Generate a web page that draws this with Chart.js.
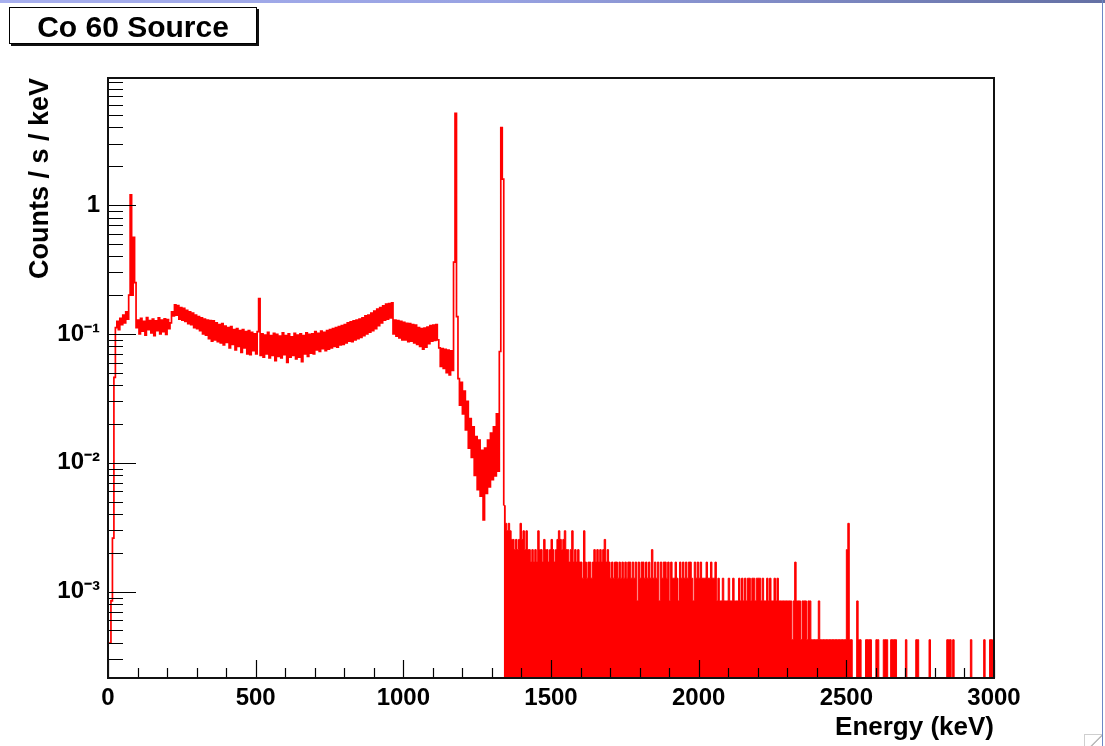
<!DOCTYPE html>
<html>
<head>
<meta charset="utf-8">
<script src="https://cdn.jsdelivr.net/npm/chart.js@4"></script>
<style>
html,body{margin:0;padding:0;background:#fff;}
#wrap{position:relative;width:1105px;height:746px;overflow:hidden;background:#fff;}
#c{position:absolute;left:0;top:0;}
#topbar{position:absolute;left:0;top:0;width:1105px;height:3px;background:linear-gradient(to right,#a7afee,#98a2e2 45%,#6470a4);}
#rightbar{position:absolute;left:1102px;top:0;width:1px;height:746px;background:#6d87c4;}
#grip{position:absolute;left:1084px;top:734px;width:17px;height:12px;border-left:1px solid #cfcfcf;border-top:1px solid #cfcfcf;background:linear-gradient(135deg,transparent 55%,#bbb 56%,#bbb 62%,transparent 63%);}
#title{position:absolute;left:9px;top:7px;width:246px;height:33px;padding-top:2px;border:1px solid #000;box-shadow:2px 2px 0 #111;background:#fff;font:bold 30px 'Liberation Sans',Arial,Helvetica,sans-serif;text-align:center;line-height:33px;color:#000;}
</style>
</head>
<body>
<div id="wrap">
  <canvas id="c" width="1105" height="746"></canvas>
  <div id="topbar"></div>
  <div id="rightbar"></div>
  <div id="grip"></div>
  <div id="title">Co 60 Source</div>
</div>
<script>
// ---------------- data ----------------
const BIN_KEV = 5;               // histogram bin width (keV)
const lowStartKeV = 0;           // first bin of the low-energy part
// counts / s / keV, one value per 5 keV bin, 0 .. 1335 keV
const lowRates = [
  /*    0 */ 0.0004, 0.0004, 0.00085, 0.0026, 0.046, 0.112, 0.125, 0.108, 0.132, 0.118,
  /*   50 */ 0.14, 0.122, 0.148, 0.13, 0.2, 1.2, 0.2, 0.56, 0.25, 0.112,
  /*  100 */ 0.128, 0.1, 0.132, 0.105, 0.125, 0.098, 0.134, 0.108, 0.127, 0.102,
  /*  150 */ 0.13, 0.097, 0.126, 0.106, 0.133, 0.1, 0.128, 0.104, 0.131, 0.099,
  /*  200 */ 0.129, 0.11, 0.122, 0.148, 0.138, 0.168, 0.14, 0.166, 0.13, 0.16,
  /*  250 */ 0.128, 0.158, 0.125, 0.152, 0.12, 0.148, 0.118, 0.145, 0.112, 0.14,
  /*  300 */ 0.11, 0.136, 0.106, 0.133, 0.1, 0.13, 0.098, 0.128, 0.092, 0.127,
  /*  350 */ 0.088, 0.126, 0.09, 0.122, 0.087, 0.118, 0.085, 0.12, 0.082, 0.115,
  /*  400 */ 0.086, 0.112, 0.078, 0.114, 0.083, 0.108, 0.075, 0.11, 0.08, 0.106,
  /*  450 */ 0.072, 0.108, 0.078, 0.104, 0.07, 0.106, 0.069, 0.103, 0.074, 0.1,
  /*  500 */ 0.07, 0.104, 0.188, 0.068, 0.1, 0.066, 0.098, 0.07, 0.103, 0.065,
  /*  550 */ 0.097, 0.068, 0.101, 0.062, 0.099, 0.067, 0.096, 0.065, 0.102, 0.069,
  /*  600 */ 0.097, 0.06, 0.1, 0.066, 0.095, 0.068, 0.101, 0.064, 0.098, 0.066,
  /*  650 */ 0.1, 0.061, 0.097, 0.07, 0.102, 0.067, 0.099, 0.071, 0.1, 0.07,
  /*  700 */ 0.104, 0.075, 0.101, 0.073, 0.105, 0.077, 0.103, 0.074, 0.106, 0.076,
  /*  750 */ 0.108, 0.078, 0.11, 0.08, 0.112, 0.079, 0.114, 0.082, 0.116, 0.083,
  /*  800 */ 0.118, 0.085, 0.122, 0.088, 0.124, 0.087, 0.126, 0.09, 0.128, 0.092,
  /*  850 */ 0.13, 0.094, 0.133, 0.097, 0.138, 0.1, 0.14, 0.103, 0.145, 0.106,
  /*  900 */ 0.15, 0.11, 0.156, 0.116, 0.16, 0.122, 0.165, 0.128, 0.17, 0.13,
  /*  950 */ 0.172, 0.133, 0.174, 0.1, 0.128, 0.096, 0.127, 0.093, 0.125, 0.09,
  /* 1000 */ 0.123, 0.09, 0.121, 0.087, 0.12, 0.088, 0.118, 0.085, 0.117, 0.083,
  /* 1050 */ 0.112, 0.08, 0.11, 0.076, 0.111, 0.079, 0.113, 0.084, 0.116, 0.088,
  /* 1100 */ 0.117, 0.089, 0.118, 0.09, 0.078, 0.056, 0.077, 0.054, 0.076, 0.05,
  /* 1150 */ 0.075, 0.048, 0.074, 0.052, 0.36, 5.15, 0.136, 0.045, 0.028, 0.042,
  /* 1200 */ 0.024, 0.036, 0.018, 0.03, 0.013, 0.022, 0.011, 0.019, 0.008, 0.016,
  /* 1250 */ 0.0062, 0.015, 0.0055, 0.0125, 0.0036, 0.013, 0.0058, 0.015, 0.0065, 0.017,
  /* 1300 */ 0.0074, 0.019, 0.0079, 0.024, 0.0086, 0.073, 3.98, 1.59
];
const highStartKeV = 1340;       // first bin of the high-energy tail
const COUNT_RATE = 4.24e-4;      // one recorded count in a bin, in counts / s / keV
// recorded counts per 5 keV bin, 1340 .. 2995 keV
const highCounts = [
  /* 1340 */ 11, 8, 7, 8, 7, 6, 6, 5, 6, 5,
  /* 1390 */ 6, 8, 6, 7, 5, 7, 5, 5, 4, 5,
  /* 1440 */ 4, 5, 4, 7, 5, 5, 4, 6, 5, 5,
  /* 1490 */ 4, 5, 6, 5, 4, 5, 6, 7, 6, 5,
  /* 1540 */ 6, 7, 5, 5, 4, 5, 7, 4, 5, 4,
  /* 1590 */ 5, 4, 4, 3, 7, 4, 3, 4, 4, 3,
  /* 1640 */ 4, 5, 4, 5, 4, 5, 4, 5, 6, 4,
  /* 1690 */ 5, 4, 3, 4, 3, 4, 4, 3, 4, 3,
  /* 1740 */ 4, 3, 4, 3, 4, 4, 3, 4, 3, 4,
  /* 1790 */ 2, 4, 3, 4, 4, 3, 4, 3, 4, 3,
  /* 1840 */ 5, 3, 4, 3, 4, 2, 4, 3, 4, 4,
  /* 1890 */ 3, 4, 2, 4, 3, 3, 4, 3, 2, 4,
  /* 1940 */ 3, 4, 3, 4, 3, 4, 4, 3, 2, 4,
  /* 1990 */ 3, 4, 3, 4, 3, 3, 3, 4, 3, 3,
  /* 2040 */ 4, 3, 3, 4, 2, 3, 2, 2, 3, 2,
  /* 2090 */ 2, 2, 3, 2, 2, 3, 2, 2, 2, 3,
  /* 2140 */ 2, 3, 2, 3, 2, 3, 3, 2, 3, 3,
  /* 2190 */ 2, 3, 3, 3, 2, 3, 2, 2, 3, 2,
  /* 2240 */ 3, 2, 2, 3, 2, 3, 2, 2, 2, 2,
  /* 2290 */ 2, 2, 2, 2, 2, 1, 2, 4, 2, 2,
  /* 2340 */ 2, 1, 2, 2, 2, 1, 2, 2, 1, 1,
  /* 2390 */ 1, 1, 1, 2, 1, 1, 1, 1, 1, 1,
  /* 2440 */ 1, 1, 1, 1, 1, 1, 1, 1, 1, 1,
  /* 2490 */ 1, 1, 5, 8, 1, 1, 0, 0, 0, 2,
  /* 2540 */ 1, 1, 0, 0, 0, 1, 1, 1, 1, 0,
  /* 2590 */ 0, 0, 1, 1, 0, 0, 0, 1, 1, 1,
  /* 2640 */ 0, 0, 1, 1, 1, 1, 0, 0, 0, 0,
  /* 2690 */ 0, 0, 1, 0, 0, 0, 0, 0, 0, 1,
  /* 2740 */ 1, 0, 0, 0, 0, 0, 0, 0, 1, 0,
  /* 2790 */ 0, 0, 0, 0, 0, 0, 0, 0, 0, 0,
  /* 2840 */ 1, 1, 1, 0, 1, 0, 0, 0, 0, 0,
  /* 2890 */ 0, 0, 0, 0, 0, 0, 1, 0, 0, 0,
  /* 2940 */ 0, 0, 0, 0, 0, 1, 0, 0, 0, 1,
  /* 2990 */ 1, 0
];
const xTickValues = [0, 500, 1000, 1500, 2000, 2500, 3000];
const xTickLabels = ['0', '500', '1000', '1500', '2000', '2500', '3000'];
const yTickValues = [0.001, 0.01, 0.1, 1];
const yTickLabels = ['10\u207B\u00B3', '10\u207B\u00B2', '10\u207B\u00B9', '1'];
const X_MIN = 0, X_MAX = 3000;
const Y_MIN = 2.14e-4, Y_MAX = 9.67;

// ---------------- chart ----------------
const FONT = "'Liberation Sans', Arial, Helvetica, sans-serif";

function histPoints(start, vals, closeVal) {
  const pts = vals.map((v, i) => ({ x: start + i * BIN_KEV, y: v > 0 ? v : Y_MIN }));
  pts.push({ x: start + vals.length * BIN_KEV, y: closeVal > 0 ? closeVal : Y_MIN });
  return pts;
}
const highRates = highCounts.map(c => c * COUNT_RATE);
const lowPts = histPoints(lowStartKeV, lowRates, highRates[0]);
const highPts = histPoints(highStartKeV, highRates, highRates[highRates.length - 1]);

const frameTicks = {
  id: 'frameTicks',
  afterDatasetsDraw(chart) {
    const { ctx, chartArea: a, scales: { x, y } } = chart;
    ctx.save();
    ctx.strokeStyle = '#000';
    ctx.lineWidth = 1.2;
    ctx.beginPath();
    for (let e = X_MIN; e <= X_MAX; e += 100) {
      const px = Math.round(x.getPixelForValue(e)) + 0.5;
      const len = e % 500 === 0 ? 18 : 10;
      ctx.moveTo(px, a.bottom);
      ctx.lineTo(px, a.bottom - len);
    }
    for (let k = -4; k <= 0; k++) {
      for (let m = 1; m <= 9; m++) {
        const v = m * Math.pow(10, k);
        if (v < y.min || v > y.max) continue;
        const py = Math.round(y.getPixelForValue(v)) + 0.5;
        const len = m === 1 ? 28 : 15;
        ctx.moveTo(a.left, py);
        ctx.lineTo(a.left + len, py);
      }
    }
    ctx.stroke();
    ctx.lineWidth = 2;
    ctx.strokeStyle = '#111';
    ctx.strokeRect(a.left, a.top, a.right - a.left, a.bottom - a.top);
    ctx.restore();
  }
};

new Chart(document.getElementById('c'), {
  type: 'line',
  data: {
    datasets: [
      { label: 'Co 60 (0-1340 keV)', data: lowPts, borderColor: '#ff0000', borderWidth: 1.7,
        stepped: 'before', pointRadius: 0, fill: false },
      { label: 'Co 60 (1340-3000 keV)', data: highPts, borderColor: '#ff0000', backgroundColor: '#ff0000',
        borderWidth: 1, stepped: 'before', pointRadius: 0, fill: 'start' }
    ]
  },
  options: {
    responsive: false,
    animation: false,
    devicePixelRatio: 1,
    layout: { padding: { top: 78, right: 111, left: 0, bottom: 0 } },
    plugins: { legend: { display: false }, tooltip: { enabled: false }, title: { display: false } },
    scales: {
      x: {
        type: 'linear', min: X_MIN, max: X_MAX, position: 'bottom',
        afterBuildTicks: s => { s.ticks = xTickValues.map(v => ({ value: v })); },
        afterFit: s => { s.height = 68; },
        ticks: {
          callback: v => { const i = xTickValues.indexOf(v); return i >= 0 ? xTickLabels[i] : ''; },
          font: { family: FONT, size: 24, weight: 'bold' }, color: '#000', padding: 6,
          maxRotation: 0, autoSkip: false
        },
        grid: { display: false, drawTicks: false },
        border: { display: false },
        title: { display: true, text: 'Energy (keV)', align: 'end', color: '#000',
          font: { family: FONT, size: 26, weight: 'bold', lineHeight: 1 }, padding: { top: 0, bottom: 5 } }
      },
      y: {
        type: 'logarithmic', min: Y_MIN, max: Y_MAX, position: 'left',
        afterBuildTicks: s => { s.ticks = yTickValues.map(v => ({ value: v })); },
        afterFit: s => { s.width = 108; },
        ticks: {
          callback: v => { const i = yTickValues.findIndex(t => Math.abs(t - v) / t < 1e-6); return i >= 0 ? yTickLabels[i] : ''; },
          font: { family: FONT, size: 24, weight: 'bold' }, color: '#000', padding: 8, autoSkip: false
        },
        grid: { display: false, drawTicks: false },
        border: { display: false },
        title: { display: true, text: 'Counts / s / keV', align: 'end', color: '#000',
          font: { family: FONT, size: 27, weight: 'bold', lineHeight: 1 }, padding: { top: 27, bottom: 0 } }
      }
    }
  },
  plugins: [frameTicks]
});
</script>
</body>
</html>
